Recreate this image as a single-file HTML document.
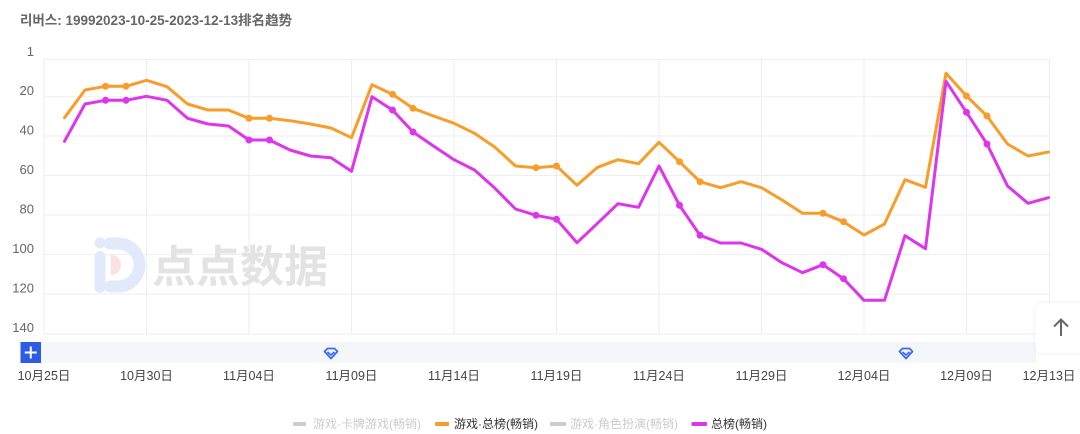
<!DOCTYPE html>
<html><head><meta charset="utf-8"><style>
html,body{margin:0;padding:0;background:#fff;width:1080px;height:434px;overflow:hidden}
svg{display:block}
text{font-family:"Liberation Sans","Noto Sans CJK SC",sans-serif}
</style></head><body>
<svg width="1080" height="434" viewBox="0 0 1080 434" xmlns="http://www.w3.org/2000/svg">
<text x="20" y="25" font-size="13.5" font-weight="bold" fill="#666" font-family="Liberation Sans, Noto Sans CJK KR, Noto Sans CJK SC, sans-serif">리버스: 19992023-10-25-2023-12-13排名趋势</text>

<!-- grid -->
<g stroke="#eceef3" stroke-width="1">
<line x1="44" y1="59.5" x2="1049" y2="59.5"/>
<line x1="44" y1="96.7" x2="1049" y2="96.7"/>
<line x1="44" y1="136" x2="1049" y2="136"/>
<line x1="44" y1="175.5" x2="1049" y2="175.5"/>
<line x1="44" y1="215" x2="1049" y2="215"/>
<line x1="44" y1="254.5" x2="1049" y2="254.5"/>
<line x1="44" y1="294" x2="1049" y2="294"/>
<line x1="44" y1="334" x2="1049" y2="334"/>
<line x1="44" y1="59" x2="44" y2="334"/>
<line x1="146.5" y1="59" x2="146.5" y2="334"/>
<line x1="249" y1="59" x2="249" y2="334"/>
<line x1="351.5" y1="59" x2="351.5" y2="334"/>
<line x1="454" y1="59" x2="454" y2="334"/>
<line x1="556.5" y1="59" x2="556.5" y2="334"/>
<line x1="659" y1="59" x2="659" y2="334"/>
<line x1="761.5" y1="59" x2="761.5" y2="334"/>
<line x1="864" y1="59" x2="864" y2="334"/>
<line x1="966.5" y1="59" x2="966.5" y2="334"/>
<line x1="1049.5" y1="59" x2="1049.5" y2="334"/>
</g>

<!-- watermark -->
<g>
<path d="M110 243.5 h8 a21.5 21.5 0 0 1 0 43 h-8" fill="none" stroke="#e2e9fa" stroke-width="12" stroke-linecap="round"/>
<circle cx="100" cy="243" r="5.5" fill="#e2e9fa"/>
<rect x="94.5" y="251" width="11" height="42" rx="5.5" fill="#e2e9fa"/>
<path d="M111 255 a10 10 0 0 1 0 20 z" fill="#fbe1e3"/>
<text x="152" y="282" font-size="44" font-weight="bold" fill="#e3e3e3">点点数据</text>
</g>

<!-- y labels -->
<g font-size="13" fill="#666" text-anchor="end">
<text x="34" y="56">1</text>
<text x="34" y="95">20</text>
<text x="34" y="134.5">40</text>
<text x="34" y="174">60</text>
<text x="34" y="213.5">80</text>
<text x="34" y="253">100</text>
<text x="34" y="292.5">120</text>
<text x="34" y="332">140</text>
</g>

<!-- orange series -->
<polyline fill="none" stroke="#f99d2a" stroke-width="3" stroke-linejoin="round" stroke-linecap="round" points="64.5,117.7 85,90 105.5,86.3 126,86.3 146.5,80.3 167,86.7 187.5,104 208,110 228.5,110 249,118.3 269.5,118.3 290,120.7 310.5,124 331,128 351.5,137.7 372,84.7 392.5,94.3 413,108.3 433.5,116 454,123.3 474.5,133.3 495,147.3 515.5,166 536,167.7 556.5,166 577,185.3 597.5,167.3 618,159.7 638.5,163.7 659,142.3 679.5,161.7 700,181.7 720.5,187.7 741,181.7 761.5,187.7 782,200 802.5,213.3 823,213.3 843.5,221.7 864,235 884.5,224 905,179.7 925.5,187.3 946,73.3 966.5,96 987,116 1007.5,144 1028,156 1048.5,152"/>
<g fill="#f99d2a">
<circle cx="105.5" cy="86.3" r="3.5"/><circle cx="126" cy="86.3" r="3.5"/>
<circle cx="249" cy="118.3" r="3.5"/><circle cx="269.5" cy="118.3" r="3.5"/>
<circle cx="392.5" cy="94.3" r="3.5"/><circle cx="413" cy="108.3" r="3.5"/>
<circle cx="536" cy="167.7" r="3.5"/><circle cx="556.5" cy="166" r="3.5"/>
<circle cx="679.5" cy="161.7" r="3.5"/><circle cx="700" cy="181.7" r="3.5"/>
<circle cx="823" cy="213.3" r="3.5"/><circle cx="843.5" cy="221.7" r="3.5"/>
<circle cx="966.5" cy="96" r="3.5"/><circle cx="987" cy="116" r="3.5"/>
</g>

<!-- magenta series -->
<polyline fill="none" stroke="#de34ec" stroke-width="3" stroke-linejoin="round" stroke-linecap="round" points="64.5,141.3 85,104 105.5,100.3 126,100.3 146.5,96.3 167,100.3 187.5,118.3 208,124 228.5,126 249,140 269.5,140 290,150 310.5,156 331,157.7 351.5,171.3 372,96.7 392.5,110 413,132 433.5,146 454,159.7 474.5,170 495,188.3 515.5,209 536,215.3 556.5,219.3 577,242.7 597.5,223.3 618,203.7 638.5,207.3 659,166 679.5,205.3 700,235.3 720.5,243 741,243 761.5,249.3 782,262.7 802.5,272.7 823,264.7 843.5,278.7 864,300.3 884.5,300.3 905,235.7 925.5,248.7 946,81.3 966.5,112.3 987,144 1007.5,186 1028,203.3 1048.5,197.7"/>
<g fill="#de34ec">
<circle cx="105.5" cy="100.3" r="3.5"/><circle cx="126" cy="100.3" r="3.5"/>
<circle cx="249" cy="140" r="3.5"/><circle cx="269.5" cy="140" r="3.5"/>
<circle cx="392.5" cy="110" r="3.5"/><circle cx="413" cy="132" r="3.5"/>
<circle cx="536" cy="215.3" r="3.5"/><circle cx="556.5" cy="219.3" r="3.5"/>
<circle cx="679.5" cy="205.3" r="3.5"/><circle cx="700" cy="235.3" r="3.5"/>
<circle cx="823" cy="264.7" r="3.5"/><circle cx="843.5" cy="278.7" r="3.5"/>
<circle cx="966.5" cy="112.3" r="3.5"/><circle cx="987" cy="144" r="3.5"/>
</g>

<!-- data zoom bar -->
<rect x="41" y="342" width="995" height="21" fill="#f4f6fa"/>
<rect x="20.5" y="342" width="20.5" height="21" fill="#2d5be3"/>
<path d="M30.75 346.5 v12 M24.75 352.5 h12" stroke="#fff" stroke-width="2"/>
<g fill="none" stroke="#3b6cf6" stroke-width="1.8" stroke-linejoin="round">
<path d="M324.5 351.5 l3 -3 h7 l3 3 l-6.5 7 z"/>
<path d="M327.5 352 l3.5 3 l3.5 -3"/>
<path d="M899.5 351.5 l3 -3 h7 l3 3 l-6.5 7 z"/>
<path d="M902.5 352 l3.5 3 l3.5 -3"/>
</g>

<!-- x labels -->
<g font-size="12.5" fill="#444" text-anchor="middle">
<text x="44" y="380">10月25日</text>
<text x="146.5" y="380">10月30日</text>
<text x="249" y="380">11月04日</text>
<text x="351.5" y="380">11月09日</text>
<text x="454" y="380">11月14日</text>
<text x="556.5" y="380">11月19日</text>
<text x="659" y="380">11月24日</text>
<text x="761.5" y="380">11月29日</text>
<text x="864" y="380">12月04日</text>
<text x="966.5" y="380">12月09日</text>
<text x="1049" y="380">12月13日</text>
</g>

<!-- up button -->
<defs><filter id="sh" x="-30%" y="-30%" width="160%" height="160%"><feDropShadow dx="0" dy="0" stdDeviation="2" flood-color="#000" flood-opacity="0.08"/></filter></defs>
<rect x="1035.5" y="303" width="55" height="50" rx="6" fill="#fff" filter="url(#sh)"/>
<path d="M1061 336 v-16 M1054 326.5 l7 -7 l7 7" fill="none" stroke="#666" stroke-width="2"/>

<!-- legend -->
<g font-size="12">
<rect x="293" y="422" width="13" height="4" rx="1" fill="#ccc"/>
<text x="313" y="428" fill="#ccc">游戏·卡牌游戏(畅销)</text>
<rect x="435" y="422" width="14" height="4" rx="1" fill="#f99d2a"/>
<text x="454" y="428" fill="#333">游戏·总榜(畅销)</text>
<rect x="550" y="422" width="16" height="4" rx="1" fill="#ccc"/>
<text x="570" y="428" fill="#ccc">游戏·角色扮演(畅销)</text>
<rect x="691.5" y="422" width="15.5" height="4" rx="1" fill="#de34ec"/>
<text x="711" y="428" fill="#333">总榜(畅销)</text>
</g>
</svg>
</body></html>
